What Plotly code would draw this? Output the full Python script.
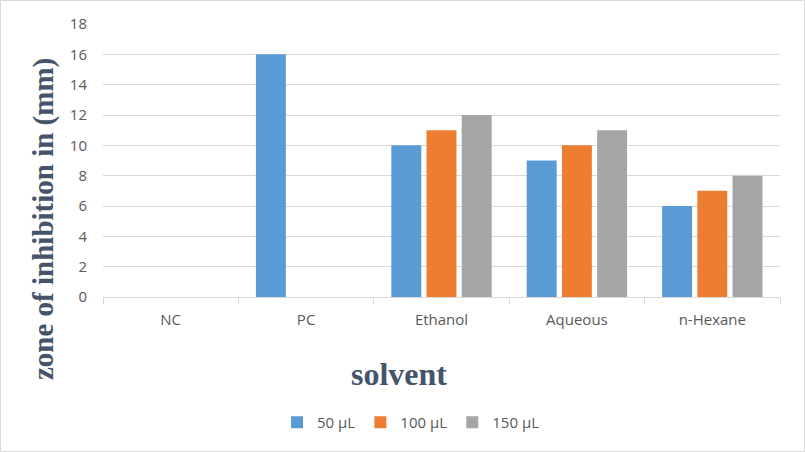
import plotly.graph_objects as go

categories = ["NC", "PC", "Ethanol", "Aqueous", "n-Hexane"]
series_names = ["50 µL", "100 µL", "150 µL"]
v50 = [0, 16, 10, 9, 6]
v100 = [0, 0, 11, 10, 7]
v150 = [0, 0, 12, 11, 8]
colors = ["#5B9BD5", "#ED7D31", "#A5A5A5"]

fig = go.Figure()
for name, vals, c in zip(series_names, [v50, v100, v150], colors):
    fig.add_trace(go.Bar(x=categories, y=vals, name=name, marker=dict(color=c, line=dict(width=0))))

W, H = 805, 452
ml, mr, mt, mb = 103, 25, 24, 155
pw, ph = W - ml - mr, H - mt - mb

def px_x(p):
    return (p - ml) / pw

def px_y(p):
    return (H - mb - p) / ph

fig.update_layout(
    width=W, height=H,
    margin=dict(l=ml, r=mr, t=mt, b=mb),
    paper_bgcolor="white", plot_bgcolor="white",
    barmode="group", bargap=0.22, bargroupgap=0.15,
    font=dict(family="Open Sans, Liberation Sans, sans-serif", color="#595959", size=15),
    legend=dict(orientation="h", x=0.455, xanchor="center", y=px_y(406), yanchor="top",
                font=dict(size=15, color="#595959"), itemwidth=30, traceorder="normal"),
    xaxis=dict(showgrid=False, showline=True, linecolor="#D9D9D9", linewidth=1,
               ticks="outside", tickson="boundaries", ticklen=6, tickcolor="#D9D9D9",
               ticklabelstandoff=9,
               tickfont=dict(size=15, color="#595959")),
    yaxis=dict(range=[0, 18], dtick=2, showgrid=True, gridcolor="#D9D9D9", gridwidth=1,
               zeroline=False, showline=False, ticks="", ticklabelstandoff=15,
               tickfont=dict(size=15, color="#595959")),
)

fig.add_annotation(text="<b>solvent</b>", xref="paper", yref="paper",
                   x=px_x(399), y=px_y(374), xanchor="center", yanchor="middle", showarrow=False,
                   font=dict(family="Liberation Serif, serif", size=32, color="#44546A"))
fig.add_annotation(text="<b>zone of inhibition in (mm)</b>", xref="paper", yref="paper",
                   x=px_x(43), y=px_y(219), xanchor="center", yanchor="middle", showarrow=False,
                   textangle=-90,
                   font=dict(family="Liberation Serif, serif", size=29, color="#44546A"))

fig.add_shape(type="rect", xref="paper", yref="paper",
              x0=px_x(0.5), x1=px_x(W - 0.5),
              y0=px_y(H - 0.5), y1=px_y(0.5),
              line=dict(color="#D9D9D9", width=1), fillcolor="rgba(0,0,0,0)", layer="below")

fig.write_html("out.html", config={"displayModeBar": False},
               post_script="document.body.style.margin='0';document.body.style.overflow='hidden';")
